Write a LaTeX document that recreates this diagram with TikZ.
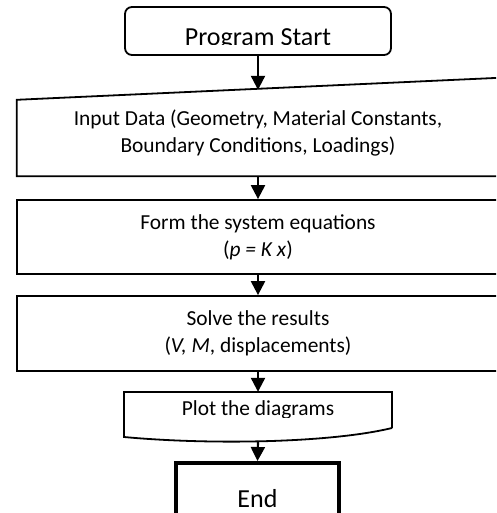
\documentclass[tikz,border=0pt]{standalone}
\usepackage{fontspec}
\setmainfont{Carlito}
\usetikzlibrary{arrows.meta,calc}

\newcommand{\flowfont}{\fontsize{21.4pt}{27pt}\selectfont}
\newcommand{\titlefont}{\fontsize{26pt}{31pt}\selectfont}

\tikzset{
  boxline/.style={draw=black, line width=1.8pt},
  flowbox/.style={boxline, minimum width=482pt, align=center, font=\flowfont, inner sep=0pt},
  flowarrow/.style={line width=2.2pt, -{Triangle[length=14pt,width=14pt]}},
}

\begin{document}
\begin{tikzpicture}[x=1pt, y=-1pt]
  \useasboundingbox (0,0) rectangle (496,513);
  \clip (0,0) rectangle (496,513);

  % start terminal, its caption is cut off at the lower edge
  \node[boxline, rounded corners=7pt, minimum width=266pt, minimum height=48pt] (start) at (258,31) {};
  \begin{scope}
    \clip (125,7) rectangle (391,45);
    \node[font=\titlefont, anchor=base, inner sep=0pt] (starttext) at (258,46) {Program Start};
  \end{scope}

  % manual input
  \node[minimum width=482pt, minimum height=86pt, align=center, font=\flowfont, inner sep=0pt] (input) at (258,133)
    {Input Data (Geometry, Material Constants,\\Boundary Conditions, Loadings)};
  \draw[boxline] ([yshift=-10pt]input.north west) -- ([yshift=12pt]input.north east)
    -- (input.south east) -- (input.south west) -- cycle;

  % processing steps
  \node[flowbox, minimum height=74pt] (form) at (258,237) {Form the system equations\\(\textit{p = K x})};
  \node[flowbox, minimum height=75pt] (solve) at (258,333.5) {Solve the results\\(\textit{V, M}, displacements)};

  % output document with wavy bottom
  \node[minimum width=268pt, minimum height=36pt, inner sep=0pt] (plot) at (258,410) {};
  \draw[boxline] (392,428) -- (392,392) -- (124,392) -- (124,437)
    .. controls (210,445) and (330,443) .. (392,428);
  \coordinate (wave) at (258,441);
  \begin{scope}
    \clip (124,392) rectangle (392,417);
    \node[font=\flowfont, anchor=base, inner sep=0pt] (plottext) at (258,415) {Plot the diagrams};
  \end{scope}

  % end terminal
  \node[draw=black, line width=4pt, minimum width=163pt, minimum height=72pt, font=\titlefont] (stop) at (257.5,499) {End};

  % connectors
  \draw[flowarrow] (start.south) -- (input.north);
  \draw[flowarrow] (input.south) -- (form.north);
  \draw[flowarrow] (form.south) -- (solve.north);
  \draw[flowarrow] (solve.south) -- (plot.north);
  \draw[flowarrow] (wave) -- (stop.north);
\end{tikzpicture}
\end{document}
